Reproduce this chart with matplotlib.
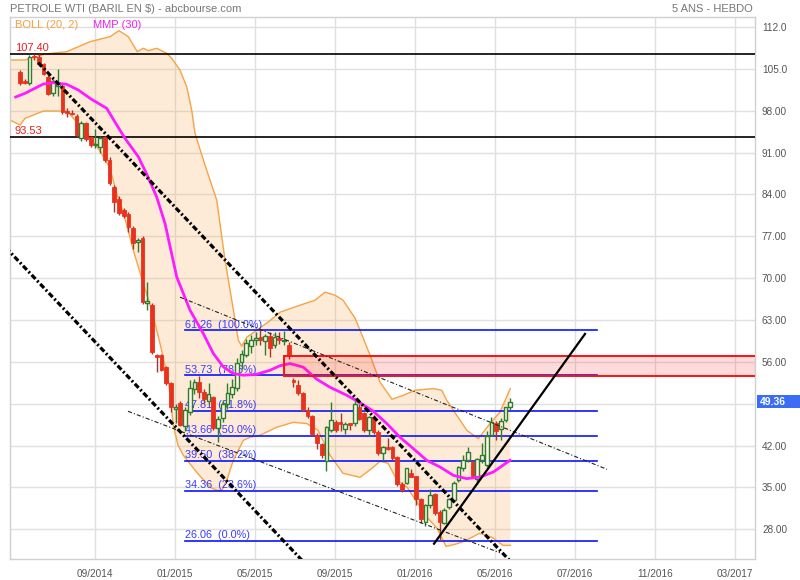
import matplotlib
matplotlib.use('Agg')
import matplotlib.pyplot as plt
import matplotlib.transforms as mtransforms
import numpy as np

plt.rcParams['font.family'] = ['Liberation Sans', 'DejaVu Sans']
plt.rcParams['lines.scale_dashes'] = False

title = "PETROLE WTI (BARIL EN $) - abcbourse.com"
subtitle = "5 ANS - HEBDO"

# weekly candles (week index 0 = end of May 2014 ... 104 = end of May 2016)
opens = [104.5, 103.0, 102.6, 107.2, 107.0, 105.8, 103.6, 100.9, 102.1, 102.1,
         97.9, 97.7, 97.1, 93.4, 95.9, 93.6, 92.2, 91.9, 93.6, 89.7,
         85.2, 83.2, 81.4, 80.7, 78.4, 76.0, 76.7, 65.9, 65.5, 57.2,
         57.1, 55.1, 52.4, 48.2, 49.1, 45.2, 47.6, 51.4, 52.6, 50.9,
         49.4, 50.1, 44.9, 46.6, 48.9, 50.6, 51.6, 55.9, 57.2, 58.6,
         59.6, 60.1, 59.5, 60.4, 58.8, 60.0, 59.5, 58.8, 53.0, 52.1,
         50.8, 48.0, 46.9, 43.7, 42.3, 39.5, 44.6, 45.9, 45.9, 44.7,
         45.7, 45.7, 48.4, 47.4, 44.6, 46.8, 44.3, 40.8, 41.8, 41.8,
         40.1, 35.6, 35.7, 37.4, 36.9, 33.0, 29.2, 32.0, 33.85, 30.9,
         29.1, 31.7, 32.9, 36.2, 38.2, 39.6, 39.3, 36.5, 39.6, 38.7,
         43.7, 45.7, 44.85, 46.2, 48.4]
highs = [104.8, 103.3, 107.3, 107.4, 107.4, 106.0, 103.9, 103.3, 104.9, 102.5,
         98.4, 98.2, 97.5, 96.2, 96.1, 93.8, 94.9, 93.7, 93.8, 90.2,
         85.5, 83.7, 81.8, 81.0, 78.7, 76.7, 77.0, 69.4, 65.8, 57.3,
         57.4, 55.3, 52.7, 48.9, 49.4, 48.5, 52.9, 53.2, 53.6, 51.5,
         52.5, 50.3, 47.0, 49.6, 52.5, 53.2, 56.6, 58.0, 59.9, 60.5,
         61.0, 61.26, 60.6, 61.0, 61.0, 61.0, 61.2, 59.3, 53.3, 53.0,
         51.0, 48.5, 47.1, 44.1, 42.5, 45.3, 49.3, 46.3, 47.4, 46.0,
         45.8, 50.0, 48.9, 47.6, 47.0, 47.1, 44.6, 42.0, 43.2, 42.0,
         40.3, 35.9, 38.3, 38.1, 37.0, 33.3, 32.3, 34.8, 34.0, 31.2,
         31.5, 33.2, 36.0, 38.6, 40.5, 41.8, 39.6, 39.9, 42.4, 44.5,
         46.8, 46.1, 46.6, 48.5, 50.0]
lows = [102.3, 102.4, 102.3, 106.5, 105.5, 103.9, 100.6, 100.5, 100.5, 97.5,
        97.0, 97.2, 93.6, 92.9, 92.9, 91.9, 91.8, 90.9, 89.4, 85.5,
        81.1, 80.6, 80.0, 77.8, 74.8, 74.4, 65.7, 64.6, 57.4, 54.3,
        54.4, 52.1, 47.6, 45.7, 45.2, 44.4, 47.2, 50.6, 50.0, 49.2,
        49.0, 44.6, 42.6, 46.0, 48.2, 50.0, 51.1, 54.8, 56.9, 57.5,
        58.8, 58.9, 57.2, 56.9, 58.4, 59.0, 58.9, 56.5, 51.8, 50.5,
        47.8, 46.6, 43.6, 41.4, 39.9, 37.7, 44.2, 44.2, 44.4, 43.9,
        44.6, 45.3, 46.3, 44.2, 43.6, 44.0, 40.5, 39.6, 41.3, 39.6,
        35.2, 34.3, 35.5, 36.7, 32.1, 29.1, 28.5, 31.5, 30.4, 26.06,
        28.9, 31.4, 32.6, 35.9, 37.8, 39.3, 36.6, 35.5, 39.1, 38.5,
        43.6, 43.0, 42.9, 45.9, 47.9]
closes = [102.6, 102.7, 107.0, 107.0, 105.8, 104.1, 100.8, 103.0, 102.7, 97.8,
          97.6, 97.5, 93.9, 95.9, 93.3, 92.3, 92.4, 93.4, 89.7, 85.9,
          82.7, 80.9, 80.4, 78.5, 75.9, 76.4, 66.0, 66.1, 57.6, 56.9,
          54.6, 52.4, 48.4, 48.5, 45.5, 47.9, 51.7, 52.6, 50.9, 49.8,
          50.6, 44.9, 46.5, 48.9, 50.8, 51.8, 55.8, 57.3, 59.1, 59.7,
          60.0, 59.7, 60.3, 58.4, 60.1, 59.6, 59.7, 56.95, 52.6, 50.8,
          48.0, 46.9, 43.9, 42.4, 40.5, 45.1, 46.2, 44.6, 45.6, 45.6,
          45.4, 49.0, 46.5, 44.6, 46.8, 44.3, 40.8, 41.8, 41.5, 40.0,
          35.6, 34.5, 38.2, 36.8, 33.1, 29.8, 32.1, 33.7, 30.7, 29.2,
          31.2, 33.0, 35.7, 38.4, 39.6, 40.9, 36.9, 39.7, 40.4, 43.6,
          45.9, 44.4, 46.1, 48.4, 49.36]

# Bollinger (20, 2) bands
bb_up_idx = [-2.12, 1.06, 3.18, 5.30, 9.91, 12.37, 14.85, 16.27, 19.09, 21.00,
             22.97, 24.88, 26.16, 27.22, 29.00, 31.12, 32.18, 33.94, 35.36, 36.42,
             37.12, 39.24, 41.73, 43.49, 44.91, 46.31, 47.03, 48.09, 50.21, 52.61,
             55.15, 59.40, 62.58, 64.70, 66.82, 68.52, 71.07, 72.13, 74.25, 76.37,
             78.91, 81.31, 83.79, 87.68, 89.46, 90.52, 92.64, 94.76, 97.22, 99.70,
             101.82, 104.0]
bb_upper = [106.48, 106.48, 106.98, 107.48, 107.87, 108.70, 109.54, 109.82, 110.38, 111.38,
            110.38, 107.87, 108.44, 108.03, 108.44, 107.60, 106.76, 104.80, 102.01, 98.11,
            94.21, 88.91, 83.05, 73.01, 66.32, 59.62, 58.62, 60.12, 61.30, 62.64,
            64.31, 65.48, 66.32, 67.66, 67.15, 66.32, 63.31, 61.30, 57.11, 52.60,
            49.75, 50.42, 51.26, 51.54, 51.26, 49.58, 47.07, 44.56, 43.17, 45.69,
            47.63, 51.54]
bb_lo_idx = [-2.12, 0.0, 1.06, 4.94, 9.91, 11.03, 14.49, 16.97, 19.09, 20.51,
             21.91, 24.03, 26.16, 27.94, 29.70, 31.46, 32.52, 33.52, 34.64, 37.48,
             40.31, 41.79, 42.85, 43.85, 45.25, 47.37, 48.79, 50.91, 54.45, 57.98,
             60.82, 63.22, 65.76, 68.52, 72.13, 74.67, 76.37, 78.07, 79.97, 82.10,
             84.22, 86.34, 88.46, 90.37, 92.28, 94.19, 97.48, 100.13, 102.46, 104.0]
bb_lower = [96.44, 95.60, 96.72, 97.94, 97.94, 96.99, 93.93, 91.25, 88.36, 84.17,
            81.04, 74.68, 69.11, 64.64, 59.07, 52.93, 45.40, 42.05, 40.38, 37.54,
            35.03, 34.52, 34.52, 36.20, 39.54, 42.89, 43.39, 43.73, 45.07, 45.90,
            45.69, 44.56, 40.38, 37.37, 36.70, 38.21, 39.38, 39.04, 36.20, 35.03,
            32.52, 30.01, 28.17, 25.15, 25.49, 25.99, 27.33, 26.66, 25.32, 25.32]

# MMP (30) moving average
mmp_idx = [-0.91, 1.06, 4.94, 7.06, 9.91, 12.37, 14.85, 18.39, 20.15, 22.27,
           25.10, 26.88, 29.00, 30.76, 33.24, 36.06, 38.88, 41.01, 43.13, 45.25,
           47.37, 50.21, 53.03, 55.15, 57.28, 60.10, 62.94, 65.76, 69.30, 72.13,
           74.95, 77.79, 80.61, 83.43, 86.27, 89.10, 91.92, 94.76, 97.58, 100.40,
           103.94]
mmp = [100.29, 100.91, 102.46, 102.68, 102.41, 101.46, 100.07, 98.40, 96.10, 93.38,
       90.30, 87.40, 83.55, 79.15, 70.22, 64.64, 60.74, 57.40, 55.16, 54.05,
       53.77, 53.93, 54.60, 55.36, 55.72, 55.11, 53.10, 51.76, 50.42, 49.17,
       47.74, 45.69, 43.39, 41.50, 39.54, 38.42, 37.03, 36.48, 36.75, 37.59,
       39.54]

fib_levels = [61.26, 53.73, 47.81, 43.66, 39.50, 34.36, 26.06]
fib_pcts = ["100.0%", "78.6%", "61.8%", "50.0%", "38.2%", "23.6%", "0.0%"]
fib_start, fib_end = 35.0, 122.3

h_levels = [107.40, 93.53]
zone_start, zone_low, zone_high = 56.07, 53.6, 56.95

thick_lines = [((3.88, 106.03), (107.2, 20.0)),
               ((-3.0, 75.1), (63.2, 20.0))]
thin_lines = [((33.94, 66.82), (124.5, 38.04)),
              ((22.91, 47.74), (101.8, 24.08))]
support_line = ((87.82, 25.60), (119.85, 60.68))

x_tick_pos = [15.9, 32.9, 49.85, 66.8, 83.8, 100.8, 117.7, 134.7, 151.7]
x_tick_labels = ["09/2014", "01/2015", "05/2015", "09/2015", "01/2016",
                 "05/2016", "07/2016", "11/2016", "03/2017"]
y_ticks = [112, 105, 98, 91, 84, 77, 70, 63, 56, 49, 42, 35, 28]
y_tick_labels = ["112.0", "105.0", "98.00", "91.00", "84.00", "77.00", "70.00",
                 "63.00", "56.00", "", "42.00", "35.00", "28.00"]
last_price = 49.36

# ---------------------------------------------------------------
W, H = 800, 580
fig = plt.figure(figsize=(W / 100, H / 100), dpi=100)
ax = fig.add_axes([10 / W, 21 / H, 745 / W, 542 / H])
ax.set_xlim(-2.12, 155.9)
ax.set_ylim(23.04, 113.67)

for s in ax.spines.values():
    s.set_color('#d0d0d0')
    s.set_linewidth(1)

ax.set_yticks(y_ticks)
ax.set_yticklabels(y_tick_labels)
ax.yaxis.tick_right()
ax.tick_params(axis='y', length=0, pad=5, labelsize=7.2, labelcolor='#555555')
ax.set_xticks(x_tick_pos)
ax.set_xticklabels(x_tick_labels)
ax.tick_params(axis='x', length=0, pad=7, labelsize=7.2, labelcolor='#555555')
ax.grid(True, color='#e0e0e0', linewidth=1, zorder=0)
ax.set_axisbelow(True)

# Bollinger band
poly_x = list(bb_up_idx) + list(bb_lo_idx[::-1])
poly_y = list(bb_upper) + list(bb_lower[::-1])
ax.fill(poly_x, poly_y, color='#f7a64a', alpha=0.22, lw=0, zorder=1)
ax.plot(bb_up_idx, bb_upper, color='#f5a445', lw=1, zorder=2)
ax.plot(bb_lo_idx, bb_lower, color='#f5a445', lw=1, zorder=2)

# horizontal levels
for lvl in h_levels:
    ax.axhline(lvl, color='black', lw=1.2, zorder=3)
    ax.text(-1.06, lvl + 0.25, f"{lvl:.2f}", color='#e8201a', fontsize=8,
            va='bottom', ha='left', zorder=3)

# fibonacci
for lvl, pct in zip(fib_levels, fib_pcts):
    ax.plot([fib_start, fib_end], [lvl, lvl], color='#0a14ff', lw=1.2, zorder=3)
    ax.text(fib_start, lvl + 0.15, f"{lvl:.2f}  ({pct})", color='#3a3aff',
            fontsize=7.8, va='bottom', ha='left', zorder=3)

# candles
idx = np.arange(len(closes))
o = np.array(opens); c = np.array(closes); hi = np.array(highs); lo = np.array(lows)
up = c >= o
top = np.maximum(o, c); bot = np.minimum(o, c)
hgt = np.maximum(top - bot, 0.15)
bw = 0.78
ax.vlines(idx[up], lo[up], hi[up], color='#2d7d2d', lw=1, zorder=4)
ax.vlines(idx[~up], lo[~up], hi[~up], color='#a8352a', lw=1, zorder=4)
ax.bar(idx[~up], hgt[~up], bottom=bot[~up], width=bw, color='#e8321e',
       edgecolor='#e8321e', lw=0.6, zorder=5)
ax.bar(idx[up], hgt[up], bottom=bot[up], width=bw, facecolor='#fdf3e8',
       edgecolor='#2d7d2d', lw=1, zorder=5)

# moving average
ax.plot(mmp_idx, mmp, color='#ff1aff', lw=2, zorder=6)

# resistance zone
ax.add_patch(plt.Rectangle((zone_start, zone_low), 155.9 - zone_start + 1,
                           zone_high - zone_low, facecolor=(1, 0.1, 0.1, 0.16),
                           edgecolor='#ff1010', lw=1.4, zorder=6))

# trend lines
for (p0, p1) in thick_lines:
    ax.plot([p0[0], p1[0]], [p0[1], p1[1]], color='black', lw=2.3,
            dashes=(4, 1.8, 1.4, 1.8), solid_capstyle='butt',
            dash_capstyle='butt', zorder=7)
for (p0, p1) in thin_lines:
    ax.plot([p0[0], p1[0]], [p0[1], p1[1]], color='#222222', lw=0.8,
            dashes=(3, 1.5, 0.8, 1.5), zorder=7)
ax.plot([support_line[0][0], support_line[1][0]],
        [support_line[0][1], support_line[1][1]], color='black', lw=1.6, zorder=7)

# last price marker
trans = mtransforms.blended_transform_factory(ax.transAxes, ax.transData)
ax.add_patch(plt.Rectangle((1.003, last_price - 1.1), 0.06, 2.2, transform=trans,
                           facecolor='#3a6cf4', edgecolor='none', clip_on=False, zorder=10))
ax.text(1.0065, last_price, f"{last_price:.2f}", transform=trans, va='center', ha='left',
        color='white', fontsize=7.5, fontweight='bold', clip_on=False, zorder=11)

# titles / legend
fig.text(10 / W, 1 - 9 / H, title, fontsize=8, color='#777777', va='center', ha='left')
fig.text(753 / W, 1 - 9 / H, subtitle, fontsize=8, color='#777777', va='center', ha='right')
fig.text(15 / W, 1 - 25 / H, "BOLL (20, 2)", fontsize=8, color='#f5a040', va='center', ha='left')
fig.text(93 / W, 1 - 25 / H, "MMP (30)", fontsize=8, color='#f020f0', va='center', ha='left')

fig.savefig('out.png', dpi=100)
